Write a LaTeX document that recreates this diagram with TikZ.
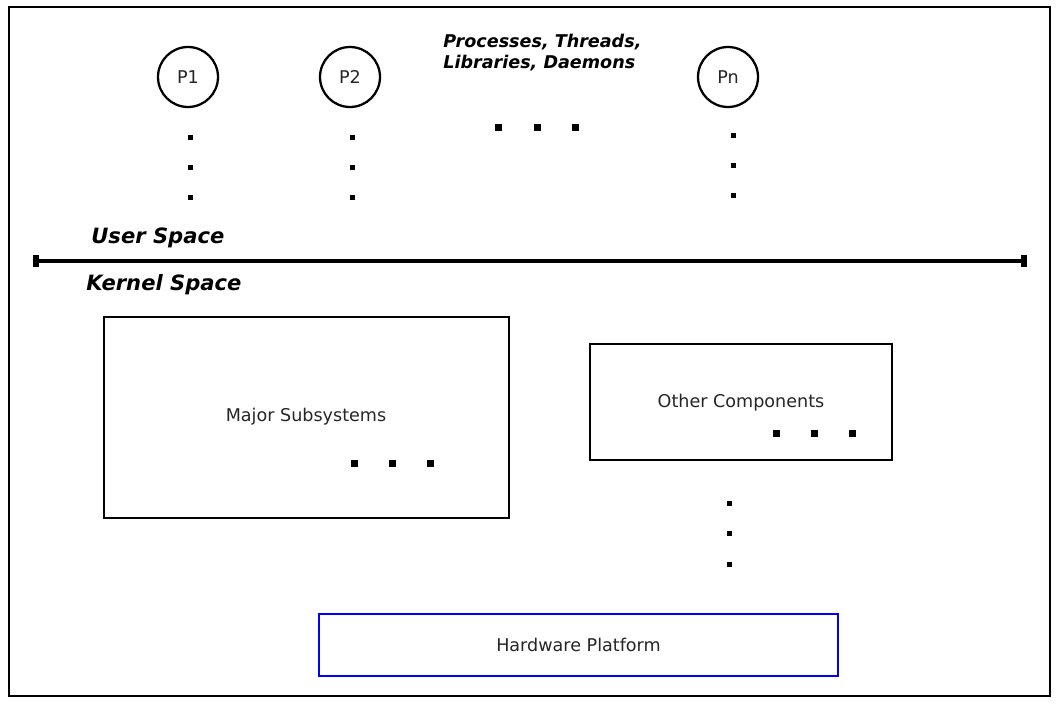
\documentclass[tikz,border=0pt]{standalone}
\usepackage{fontspec}
\setmainfont{DejaVu Sans}
\usepackage{tikz}
\usetikzlibrary{arrows.meta, positioning, calc}

\begin{document}
\begin{tikzpicture}[
    x=0.02cm, y=-0.02cm,
    every node/.style={font=\fontsize{10}{12}\selectfont, text=black!85},
    proc/.style={circle, draw=black, line width=1.3pt, minimum size=1.2cm, inner sep=0pt},
    blockbox/.style={draw=black, line width=1.3pt, inner sep=0pt},
    spacelabel/.style={font=\fontsize{12}{14}\selectfont\bfseries\itshape, text=black, anchor=west, inner sep=0pt},
    divider/.style={line width=2.5pt, {Bar[width=7pt, line width=3.5pt]}-{Bar[width=7pt, line width=3.5pt]}}
  ]

    % Frame
    \useasboundingbox (0,0) rectangle (1057,703);
    \draw[line width=1.3pt] (9,7) rectangle (1050,696);

    % Processes
    \node[proc] (p1) at (188,77) {P1};
    \node[proc] (p2) at (350,77) {P2};
    \node[proc] (pn) at (728,77) {Pn};
    \node[font=\fontsize{10}{12}\selectfont\bfseries\itshape, text=black, align=left, anchor=north west, inner sep=0pt] (procs) at (443,34) {Processes, Threads,\\Libraries, Daemons};

    % Dots under the processes
    \foreach \x/\y in {190/137, 190/167, 190/197, 352/137, 352/167, 352/197, 733/135, 733/165, 733/195} {
      \fill (\x,\y) +(-2.5,-2.5) rectangle +(2.5,2.5);
    }
    \foreach \x in {498, 537, 575} {
      \fill (\x,127) +(-3.5,-3.5) rectangle +(3.5,3.5);
    }

    % User / kernel boundary
    \node[spacelabel] (user) at (91,238) {User Space};
    \coordinate (divl) at (33,261);
    \coordinate (divr) at (1027,261);
    \draw[divider] (divl) -- (divr);
    \node[spacelabel] (kernel) at (86,285) {Kernel Space};

    % Kernel blocks
    \node[blockbox, minimum width=8.1cm, minimum height=4.02cm] (major) at (306.5,417.5) {};
    \node (majortext) at (306,417) {Major Subsystems};
    \node[blockbox, minimum width=6.04cm, minimum height=2.32cm] (other) at (741,402) {};
    \node (othertext) at (741,403) {Other Components};
    \foreach \x in {354, 392, 430} {
      \fill (\x,463) +(-3.5,-3.5) rectangle +(3.5,3.5);
    }
    \foreach \x in {776, 814, 852} {
      \fill (\x,433) +(-3.5,-3.5) rectangle +(3.5,3.5);
    }
    \foreach \y in {503, 533, 564} {
      \fill (729,\y) +(-2.5,-2.5) rectangle +(2.5,2.5);
    }

    % Hardware
    \node[blockbox, draw=blue, minimum width=10.38cm, minimum height=1.24cm] (hw) at (578.5,645) {Hardware Platform};

  \end{tikzpicture}
\end{document}
